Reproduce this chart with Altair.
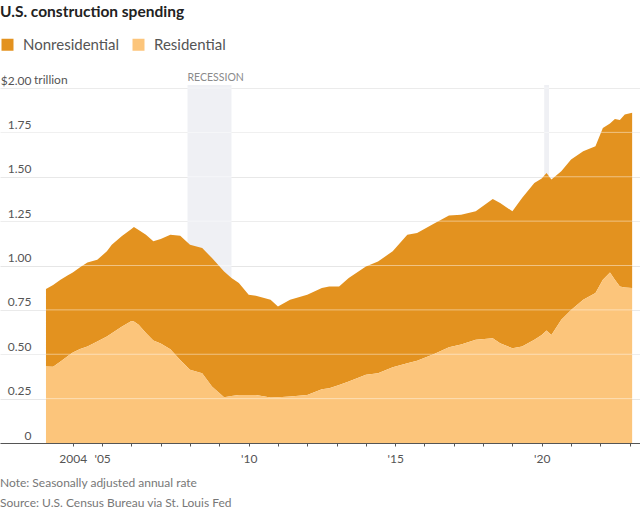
import altair as alt
import pandas as pd

# ---- data (trillions of dollars, SAAR) ----
dates = [
    "2003-02-01", "2003-05-01", "2003-08-01", "2003-11-01", "2004-01-01", "2004-04-01",
    "2004-07-01", "2004-11-01", "2005-03-01", "2005-05-01", "2005-09-01", "2006-01-01",
    "2006-02-01", "2006-04-01", "2006-07-01", "2006-10-01", "2007-01-01", "2007-05-01",
    "2007-09-01", "2008-01-01", "2008-06-01", "2008-10-01", "2009-03-01", "2009-06-01",
    "2009-09-01", "2010-01-01", "2010-04-01", "2010-10-01", "2011-01-01", "2011-06-01",
    "2012-01-01", "2012-07-01", "2012-10-01", "2013-02-01", "2013-06-01", "2014-01-01",
    "2014-06-01", "2014-12-01", "2015-06-01", "2015-10-01", "2016-05-01", "2016-11-01",
    "2017-04-01", "2017-10-01", "2018-05-01", "2018-08-01", "2019-01-01", "2019-05-01",
    "2019-10-01", "2020-01-01", "2020-03-01", "2020-05-01", "2020-09-01", "2021-01-01",
    "2021-06-01", "2021-11-01", "2022-02-01", "2022-05-01", "2022-07-01", "2022-09-01",
    "2022-11-01", "2023-02-01",
]
total = [
    0.867, 0.890, 0.920, 0.945, 0.961, 0.990,
    1.017, 1.032, 1.080, 1.117, 1.165, 1.205,
    1.217, 1.200, 1.173, 1.136, 1.150, 1.173,
    1.167, 1.117, 1.098, 1.042, 0.966, 0.930,
    0.901, 0.835, 0.829, 0.807, 0.769, 0.807,
    0.835, 0.873, 0.882, 0.881, 0.929, 0.995,
    1.023, 1.080, 1.173, 1.183, 1.236, 1.281,
    1.286, 1.305, 1.375, 1.352, 1.305, 1.380,
    1.465, 1.490, 1.521, 1.484, 1.531, 1.597,
    1.643, 1.672, 1.775, 1.800, 1.826, 1.820,
    1.851, 1.860,
]
residential = [
    0.431, 0.430, 0.459, 0.490, 0.510, 0.530,
    0.543, 0.572, 0.600, 0.619, 0.655, 0.688,
    0.685, 0.666, 0.620, 0.577, 0.560, 0.528,
    0.468, 0.412, 0.393, 0.318, 0.258, 0.265,
    0.271, 0.271, 0.271, 0.256, 0.258, 0.262,
    0.271, 0.303, 0.309, 0.327, 0.346, 0.384,
    0.393, 0.427, 0.450, 0.464, 0.502, 0.540,
    0.555, 0.581, 0.590, 0.562, 0.534, 0.543,
    0.581, 0.609, 0.634, 0.609, 0.694, 0.750,
    0.807, 0.845, 0.920, 0.961, 0.920, 0.882,
    0.876, 0.873,
]
series_names = ["Nonresidential", "Residential"]
series_colors = ["#E3921F", "#FCC57B"]
rec_start = ["2007-12-01", "2020-02-01"]
rec_end = ["2009-06-01", "2020-04-01"]
rec_label = ["RECESSION", ""]
y_ticks = [0, 0.25, 0.5, 0.75, 1.0, 1.25, 1.5, 1.75, 2.0]
x_tick_years = list(range(2004, 2024))

title_text = "U.S. construction spending"
note_text = "Note: Seasonally adjusted annual rate"
source_text = "Source: U.S. Census Bureau via St. Louis Fed"

# ---- tables ----
n = len(dates)
nonres = [round(t - r, 3) for t, r in zip(total, residential)]
df = pd.DataFrame({
    "date": dates + dates,
    "series": [series_names[0]] * n + [series_names[1]] * n,
    "value": nonres + residential,
    "stack_order": [2] * n + [1] * n,
})
rec = pd.DataFrame({"start": rec_start, "end": rec_end, "label": rec_label})
grid = pd.DataFrame({"v": y_ticks[1:]})
one = pd.DataFrame({"k": [0]})

W, H = 640, 355
FONT = "Lato"

x_scale = alt.Scale(domain=[alt.DateTime(year=2001, month=7, date=8),
                            alt.DateTime(year=2023, month=5, date=10)])
y_scale = alt.Scale(domain=[0, 2], nice=False)

x_axis = alt.Axis(
    values=[alt.DateTime(year=y, month=1, date=1) for y in x_tick_years],
    labelExpr="year(datum.value) == 2004 ? '2004' : (year(datum.value) % 5 == 0 ? \"'\" + timeFormat(datum.value, '%y') : '')",
    labelOverlap=False, labelFlush=False, labelBound=False, grid=False,
    domainColor="#555555", tickColor="#555555", tickSize=3,
    labelFontSize=12, labelColor="#555555", labelPadding=7, labelFont=FONT)

y_axis = alt.Axis(
    values=y_ticks, domain=False, ticks=False, grid=True,
    gridColor="#e6e6e6", gridWidth=1,
    labelAlign="right", labelPadding=-31, labelBaseline="bottom",
    labelOffset=-1, labelFontSize=12, labelColor="#555555", labelFont=FONT,
    labelOverlap=False,
    labelExpr="datum.value == 2 ? '$2.00' : (datum.value == 0 ? '0' : format(datum.value, '.2f'))")

area = alt.Chart(df).mark_area(interpolate="linear").encode(
    x=alt.X("date:T", scale=x_scale, title=None, axis=x_axis),
    y=alt.Y("value:Q", stack="zero", scale=y_scale, title=None, axis=y_axis),
    color=alt.Color("series:N", title=None,
                    scale=alt.Scale(domain=series_names, range=series_colors),
                    legend=alt.Legend(orient="none", legendX=0, legendY=-51, direction="horizontal",
                                      symbolType="square", symbolSize=144, symbolStrokeWidth=0,
                                      symbolOpacity=1, labelFontSize=15, labelColor="#555555",
                                      labelFont=FONT, labelOffset=8, columnPadding=11, padding=0)),
    order=alt.Order("stack_order:Q"),
)

bands = alt.Chart(rec).mark_rect(color="#EFF0F4").encode(
    x=alt.X("start:T", scale=x_scale, title=None, axis=x_axis),
    x2="end:T",
    y=alt.value(-3),
    y2=alt.value(H),
)

band_text = alt.Chart(rec).mark_text(align="left", baseline="middle", fontSize=10.5,
                                     color="#8a8a8a", font=FONT).encode(
    x=alt.X("start:T", scale=x_scale, title=None, axis=x_axis),
    y=alt.value(-10),
    text="label:N",
)

overlay = alt.Chart(grid).mark_rule(color="white", opacity=0.45, strokeWidth=1).encode(
    y=alt.Y("v:Q", scale=y_scale, title=None, axis=y_axis),
)

trillion = alt.Chart(one).mark_text(text="trillion", align="left", baseline="bottom",
                                    fontSize=12, color="#555555", font=FONT).encode(
    x=alt.value(34), y=alt.value(-1))

title = alt.Chart(one).mark_text(text=title_text, align="left", baseline="middle",
                                 fontSize=15.5, fontWeight="bold", color="#222222", font=FONT).encode(
    x=alt.value(0), y=alt.value(-76))

note = alt.Chart(one).mark_text(text=note_text, align="left", baseline="middle",
                                fontSize=12, color="#777777", font=FONT).encode(
    x=alt.value(0), y=alt.value(395))

source = alt.Chart(one).mark_text(text=source_text, align="left", baseline="middle",
                                  fontSize=12, color="#777777", font=FONT).encode(
    x=alt.value(0), y=alt.value(415))

chart = alt.layer(bands, band_text, area, overlay, trillion, title, note, source).properties(
    width=W, height=H,
    autosize=alt.AutoSizeParams(type="none"),
    padding={"left": 0, "top": 88, "right": 0, "bottom": 69},
    background="white",
).configure_view(stroke=None)

chart.save("out.html", embed_options={"renderer": "svg", "actions": False})
